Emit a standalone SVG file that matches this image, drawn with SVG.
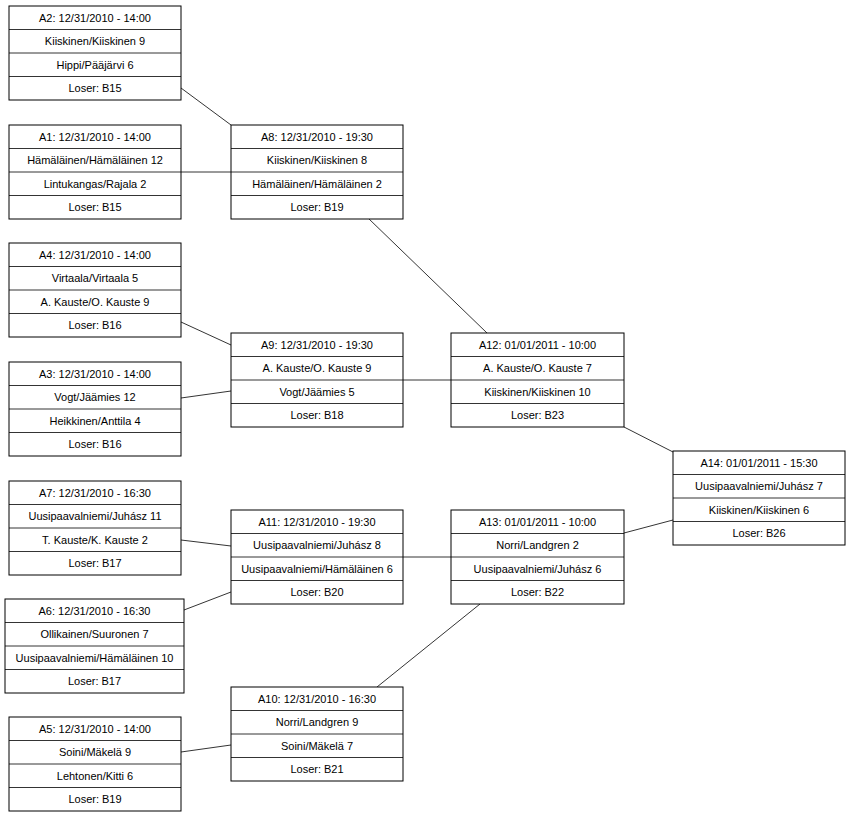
<svg xmlns="http://www.w3.org/2000/svg" width="850" height="818" viewBox="0 0 850 818">
<style>
rect{fill:#fff;stroke:#000;stroke-width:1}
line{stroke:#000;stroke-width:0.8}
text{font-family:"Liberation Sans",Arial,sans-serif;font-size:11px;fill:#000;text-anchor:middle;dominant-baseline:central}
</style>
<rect x="0" y="0" width="850" height="818" style="stroke:none"/>
<g id="connectors">
<line x1="181" y1="88" x2="231" y2="125"/>
<line x1="181" y1="172" x2="231" y2="172"/>
<line x1="181" y1="322" x2="231" y2="345"/>
<line x1="181" y1="398" x2="231" y2="391"/>
<line x1="368" y1="218" x2="487" y2="333"/>
<line x1="403" y1="380" x2="451" y2="380"/>
<line x1="624" y1="427" x2="673" y2="452"/>
<line x1="181" y1="540" x2="231" y2="546"/>
<line x1="184" y1="610" x2="231" y2="592"/>
<line x1="403" y1="557" x2="451" y2="557"/>
<line x1="624" y1="533" x2="673" y2="520"/>
<line x1="377" y1="687" x2="480" y2="604"/>
<line x1="181" y1="752" x2="231" y2="745"/>
</g>
<g id="A2" transform="translate(9,6)"><rect width="172" height="94"/><line x1="0" y1="23.5" x2="172" y2="23.5"/><line x1="0" y1="47" x2="172" y2="47"/><line x1="0" y1="70.5" x2="172" y2="70.5"/><text x="86" y="11.75">A2: 12/31/2010 - 14:00</text><text x="86" y="35.25">Kiiskinen/Kiiskinen 9</text><text x="86" y="58.75">Hippi/Pääjärvi 6</text><text x="86" y="82.25">Loser: B15</text></g>
<g id="A1" transform="translate(9,125)"><rect width="172" height="94"/><line x1="0" y1="23.5" x2="172" y2="23.5"/><line x1="0" y1="47" x2="172" y2="47"/><line x1="0" y1="70.5" x2="172" y2="70.5"/><text x="86" y="11.75">A1: 12/31/2010 - 14:00</text><text x="86" y="35.25">Hämäläinen/Hämäläinen 12</text><text x="86" y="58.75">Lintukangas/Rajala 2</text><text x="86" y="82.25">Loser: B15</text></g>
<g id="A8" transform="translate(231,125)"><rect width="172" height="94"/><line x1="0" y1="23.5" x2="172" y2="23.5"/><line x1="0" y1="47" x2="172" y2="47"/><line x1="0" y1="70.5" x2="172" y2="70.5"/><text x="86" y="11.75">A8: 12/31/2010 - 19:30</text><text x="86" y="35.25">Kiiskinen/Kiiskinen 8</text><text x="86" y="58.75">Hämäläinen/Hämäläinen 2</text><text x="86" y="82.25">Loser: B19</text></g>
<g id="A4" transform="translate(9,243)"><rect width="172" height="94"/><line x1="0" y1="23.5" x2="172" y2="23.5"/><line x1="0" y1="47" x2="172" y2="47"/><line x1="0" y1="70.5" x2="172" y2="70.5"/><text x="86" y="11.75">A4: 12/31/2010 - 14:00</text><text x="86" y="35.25">Virtaala/Virtaala 5</text><text x="86" y="58.75">A. Kauste/O. Kauste 9</text><text x="86" y="82.25">Loser: B16</text></g>
<g id="A3" transform="translate(9,362)"><rect width="172" height="94"/><line x1="0" y1="23.5" x2="172" y2="23.5"/><line x1="0" y1="47" x2="172" y2="47"/><line x1="0" y1="70.5" x2="172" y2="70.5"/><text x="86" y="11.75">A3: 12/31/2010 - 14:00</text><text x="86" y="35.25">Vogt/Jäämies 12</text><text x="86" y="58.75">Heikkinen/Anttila 4</text><text x="86" y="82.25">Loser: B16</text></g>
<g id="A9" transform="translate(231,333)"><rect width="172" height="94"/><line x1="0" y1="23.5" x2="172" y2="23.5"/><line x1="0" y1="47" x2="172" y2="47"/><line x1="0" y1="70.5" x2="172" y2="70.5"/><text x="86" y="11.75">A9: 12/31/2010 - 19:30</text><text x="86" y="35.25">A. Kauste/O. Kauste 9</text><text x="86" y="58.75">Vogt/Jäämies 5</text><text x="86" y="82.25">Loser: B18</text></g>
<g id="A12" transform="translate(451,333)"><rect width="173" height="94"/><line x1="0" y1="23.5" x2="173" y2="23.5"/><line x1="0" y1="47" x2="173" y2="47"/><line x1="0" y1="70.5" x2="173" y2="70.5"/><text x="86.5" y="11.75">A12: 01/01/2011 - 10:00</text><text x="86.5" y="35.25">A. Kauste/O. Kauste 7</text><text x="86.5" y="58.75">Kiiskinen/Kiiskinen 10</text><text x="86.5" y="82.25">Loser: B23</text></g>
<g id="A14" transform="translate(673,451)"><rect width="172" height="94"/><line x1="0" y1="23.5" x2="172" y2="23.5"/><line x1="0" y1="47" x2="172" y2="47"/><line x1="0" y1="70.5" x2="172" y2="70.5"/><text x="86" y="11.75">A14: 01/01/2011 - 15:30</text><text x="86" y="35.25">Uusipaavalniemi/Juhász 7</text><text x="86" y="58.75">Kiiskinen/Kiiskinen 6</text><text x="86" y="82.25">Loser: B26</text></g>
<g id="A7" transform="translate(9,481)"><rect width="172" height="94"/><line x1="0" y1="23.5" x2="172" y2="23.5"/><line x1="0" y1="47" x2="172" y2="47"/><line x1="0" y1="70.5" x2="172" y2="70.5"/><text x="86" y="11.75">A7: 12/31/2010 - 16:30</text><text x="86" y="35.25">Uusipaavalniemi/Juhász 11</text><text x="86" y="58.75">T. Kauste/K. Kauste 2</text><text x="86" y="82.25">Loser: B17</text></g>
<g id="A11" transform="translate(231,510)"><rect width="172" height="94"/><line x1="0" y1="23.5" x2="172" y2="23.5"/><line x1="0" y1="47" x2="172" y2="47"/><line x1="0" y1="70.5" x2="172" y2="70.5"/><text x="86" y="11.75">A11: 12/31/2010 - 19:30</text><text x="86" y="35.25">Uusipaavalniemi/Juhász 8</text><text x="86" y="58.75">Uusipaavalniemi/Hämäläinen 6</text><text x="86" y="82.25">Loser: B20</text></g>
<g id="A13" transform="translate(451,510)"><rect width="173" height="94"/><line x1="0" y1="23.5" x2="173" y2="23.5"/><line x1="0" y1="47" x2="173" y2="47"/><line x1="0" y1="70.5" x2="173" y2="70.5"/><text x="86.5" y="11.75">A13: 01/01/2011 - 10:00</text><text x="86.5" y="35.25">Norri/Landgren 2</text><text x="86.5" y="58.75">Uusipaavalniemi/Juhász 6</text><text x="86.5" y="82.25">Loser: B22</text></g>
<g id="A6" transform="translate(5,599)"><rect width="179" height="94"/><line x1="0" y1="23.5" x2="179" y2="23.5"/><line x1="0" y1="47" x2="179" y2="47"/><line x1="0" y1="70.5" x2="179" y2="70.5"/><text x="89.5" y="11.75">A6: 12/31/2010 - 16:30</text><text x="89.5" y="35.25">Ollikainen/Suuronen 7</text><text x="89.5" y="58.75">Uusipaavalniemi/Hämäläinen 10</text><text x="89.5" y="82.25">Loser: B17</text></g>
<g id="A10" transform="translate(231,687)"><rect width="172" height="94"/><line x1="0" y1="23.5" x2="172" y2="23.5"/><line x1="0" y1="47" x2="172" y2="47"/><line x1="0" y1="70.5" x2="172" y2="70.5"/><text x="86" y="11.75">A10: 12/31/2010 - 16:30</text><text x="86" y="35.25">Norri/Landgren 9</text><text x="86" y="58.75">Soini/Mäkelä 7</text><text x="86" y="82.25">Loser: B21</text></g>
<g id="A5" transform="translate(9,717)"><rect width="172" height="94"/><line x1="0" y1="23.5" x2="172" y2="23.5"/><line x1="0" y1="47" x2="172" y2="47"/><line x1="0" y1="70.5" x2="172" y2="70.5"/><text x="86" y="11.75">A5: 12/31/2010 - 14:00</text><text x="86" y="35.25">Soini/Mäkelä 9</text><text x="86" y="58.75">Lehtonen/Kitti 6</text><text x="86" y="82.25">Loser: B19</text></g>
</svg>
